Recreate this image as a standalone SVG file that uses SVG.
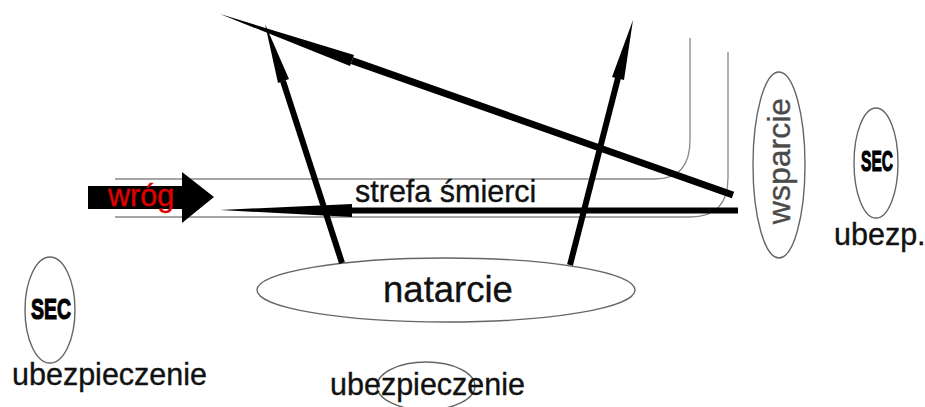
<svg xmlns="http://www.w3.org/2000/svg" width="925" height="407" viewBox="0 0 925 407">
<style>
  text { font-family: "Liberation Sans", Arial, sans-serif; fill: #111; stroke: #111; stroke-width: 0.35; }
  .lbl { font-size: 30.5px; }
  .thin { fill: none; stroke: #888; stroke-width: 1.3; }
  .ell { fill: none; stroke: #666; stroke-width: 1.4; }
  .thick { stroke: #000; stroke-width: 6; stroke-linecap: butt; fill: none; }
  .head { fill: #000; stroke: none; }
  .sec { font-weight: bold; font-size: 30px; fill: #000; stroke: #000; stroke-width: 1.2; }
</style>
<rect width="925" height="407" fill="#fff"/>
<g id="strefa">
  <path class="thin" d="M115,179 H655 Q690,179 690,140 V38"/>
  <path class="thin" d="M115,217 H690 Q728,217 728,178 V52"/>
  <text class="lbl" x="355" y="202">strefa śmierci</text>
</g>
<g id="wrog">
  <polygon fill="#000" points="88,186 182,186 182,172 214,197 182,223 182,209 88,209"/>
  <text class="lbl" x="108" y="206" style="fill:#e00000;stroke:#e00000">wróg</text>
</g>
<g id="natarcie">
  <ellipse class="ell" cx="446" cy="290" rx="189" ry="32" fill="#fff"/>
  <text x="448" y="302" text-anchor="middle" style="font-size:36.5px">natarcie</text>
</g>
<g id="wsparcie">
  <ellipse class="ell" cx="779" cy="165" rx="26" ry="93"/>
  <text transform="translate(790,161) rotate(-90)" text-anchor="middle" style="font-size:32px;fill:#4a4a4a;stroke:#4a4a4a">wsparcie</text>
</g>
<g id="sec-right">
  <ellipse class="ell" cx="876" cy="163" rx="22" ry="55"/>
  <text class="sec" x="877" y="171" text-anchor="middle" textLength="32" lengthAdjust="spacingAndGlyphs">SEC</text>
  <text class="lbl" x="834" y="245">ubezp.</text>
</g>
<g id="sec-left">
  <ellipse class="ell" cx="50" cy="310" rx="25" ry="53"/>
  <text class="sec" x="51" y="319" text-anchor="middle" textLength="40" lengthAdjust="spacingAndGlyphs">SEC</text>
  <text class="lbl" x="12" y="385">ubezpieczenie</text>
</g>
<g id="ubezpieczenie-bottom">
  <ellipse class="ell" cx="426" cy="386" rx="49" ry="24"/>
  <text class="lbl" x="330" y="395">ubezpieczenie</text>
</g>
<g id="connectors">
  <line class="thick" x1="352" y1="210.5" x2="738" y2="210.5"/>
  <polygon class="head" points="220,210 352,204 352,217"/>
  <line class="thick" x1="352" y1="60.6" x2="733" y2="195" style="stroke-width:7"/>
  <polygon class="head" points="220,14 354,55 350,66"/>
  <line class="thick" x1="283" y1="81" x2="342" y2="263"/>
  <polygon class="head" points="265,24 289,79 278,83"/>
  <line class="thick" x1="618" y1="78" x2="570" y2="265"/>
  <polygon class="head" points="633,20 624,80 612,77"/>
</g>
</svg>
